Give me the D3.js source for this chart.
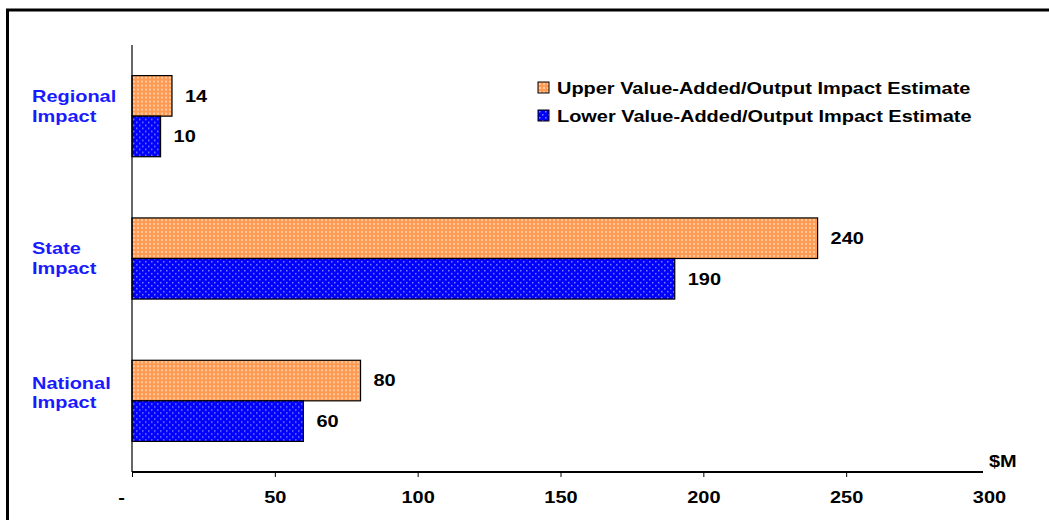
<!DOCTYPE html>
<html>
<head>
<meta charset="utf-8">
<script src="https://cdn.jsdelivr.net/npm/d3@7"></script>
<style>
  html, body { margin: 0; padding: 0; background: #fff; }
  svg { display: block; }
  text { font-family: "Liberation Sans", Arial, sans-serif; font-weight: bold; }
</style>
</head>
<body>
<svg id="chart" width="1049" height="520"></svg>
<script>
// Economic impact estimates ($M)
const categories = ["Regional Impact", "State Impact", "National Impact"];
const upperValues = [14, 240, 80];
const lowerValues = [10, 190, 60];
const seriesNames = [
  "Upper Value-Added/Output Impact Estimate",
  "Lower Value-Added/Output Impact Estimate"
];
const xTicks = [0, 50, 100, 150, 200, 250, 300];
const xTickLabels = ["-", "50", "100", "150", "200", "250", "300"];
const unitLabel = "$M";

const FONT_SIZE = 16.5;
const STRETCH = 1.21; // wide lettering

const svg = d3.select("#chart");
const defs = svg.append("defs");

// Widen a text element horizontally around its own anchor point
function widen(sel) {
  sel.attr("transform", function () {
    const t = d3.select(this);
    const ax = +t.attr("x") || 0, ay = +t.attr("y") || 0;
    return `translate(${ax},${ay}) scale(${STRETCH},1) translate(${-ax},${-ay})`;
  });
}

// Dotted fills for the two series
const pOrange = defs.append("pattern").attr("id", "dotOrange")
  .attr("patternUnits", "userSpaceOnUse").attr("width", 4).attr("height", 4);
pOrange.append("rect").attr("width", 4).attr("height", 4).attr("fill", "#ff9a52");
pOrange.append("rect").attr("x", 1).attr("y", 1).attr("width", 2).attr("height", 2).attr("fill", "#ffc9a0");

const pBlue = defs.append("pattern").attr("id", "dotBlue")
  .attr("patternUnits", "userSpaceOnUse").attr("width", 6).attr("height", 6);
pBlue.append("rect").attr("width", 6).attr("height", 6).attr("fill", "#0000ff");
pBlue.append("rect").attr("x", 1).attr("y", 1).attr("width", 1.5).attr("height", 1.5).attr("fill", "#8080ff");
pBlue.append("rect").attr("x", 4).attr("y", 4).attr("width", 1.5).attr("height", 1.5).attr("fill", "#8080ff");

const fills = ["url(#dotOrange)", "url(#dotBlue)"];

// Outer frame (runs past the right and bottom edges)
svg.append("rect")
  .attr("x", 7.5).attr("y", 10).attr("width", 1100).attr("height", 600)
  .attr("fill", "none").attr("stroke", "#000").attr("stroke-width", 3);

const plot = { left: 132, right: 989, top: 45, bottom: 472 };

const x = d3.scaleLinear().domain([0, 300]).range([plot.left, plot.right]);
const y = d3.scaleBand().domain(categories).range([plot.top, plot.bottom])
  .paddingInner(0.43).paddingOuter(0.215);
const ySub = d3.scaleBand().domain([0, 1]).range([0, y.bandwidth()]);

// Bars with value labels
const rows = categories.map((c, i) => [upperValues[i], lowerValues[i]]);

svg.append("g").selectAll("g")
  .data(categories)
  .join("g")
  .attr("transform", d => `translate(0,${y(d)})`)
  .each(function (c, i) {
    const g = d3.select(this);
    rows[i].forEach((v, s) => {
      g.append("rect")
        .attr("x", x(0))
        .attr("y", ySub(s))
        .attr("width", x(v) - x(0))
        .attr("height", ySub.bandwidth())
        .attr("fill", fills[s])
        .attr("stroke", "#000")
        .attr("stroke-width", 1.2);
      g.append("text")
        .attr("x", x(v) + 13)
        .attr("y", ySub(s) + ySub.bandwidth() / 2)
        .attr("dy", "0.36em")
        .attr("font-size", FONT_SIZE)
        .attr("fill", "#000")
        .text(v)
        .call(widen);
    });
  });

// Category labels (two lines each)
const labelShift = [-10, 0, -8];
svg.append("g").selectAll("text")
  .data(categories)
  .join("text")
  .attr("x", 32)
  .attr("y", (d, i) => y(d) + y.bandwidth() / 2 + labelShift[i])
  .attr("font-size", FONT_SIZE)
  .attr("fill", "#1a1aff")
  .each(function (d) {
    const words = d.split(" ");
    const t = d3.select(this);
    t.append("tspan").attr("x", 32).attr("dy", "-0.25em").text(words[0]);
    t.append("tspan").attr("x", 32).attr("dy", "1.2em").text(words.slice(1).join(" "));
  })
  .call(widen);

// Y axis line
svg.append("line")
  .attr("x1", plot.left).attr("x2", plot.left)
  .attr("y1", plot.top).attr("y2", plot.bottom)
  .attr("stroke", "#000").attr("stroke-width", 1.2);

// X axis
const xAxis = d3.axisBottom(x)
  .tickValues(xTicks)
  .tickFormat((d, i) => xTickLabels[i])
  .tickSize(5)
  .tickSizeOuter(0)
  .tickPadding(14);

const ax = svg.append("g")
  .attr("transform", `translate(0,${plot.bottom})`)
  .call(xAxis);
ax.select(".domain").attr("stroke", "#000").attr("stroke-width", 2)
  .attr("d", `M${x(0)},0H${x(300) - 6}`);
ax.selectAll(".tick line").attr("stroke", "#000").attr("stroke-width", 1)
  .filter(d => d === 300).remove();
ax.selectAll(".tick text")
  .attr("font-size", FONT_SIZE)
  .attr("fill", "#000")
  .attr("font-family", "\"Liberation Sans\", Arial, sans-serif")
  .attr("font-weight", "bold")
  .attr("x", d => d === 0 ? -11 : 0)
  .call(widen);

// Unit label
svg.append("text")
  .attr("x", x(300)).attr("y", 467)
  .attr("font-size", FONT_SIZE).attr("fill", "#000")
  .text(unitLabel)
  .call(widen);

// Legend
const legend = svg.append("g").attr("transform", "translate(538,82)");
seriesNames.forEach((name, i) => {
  const row = legend.append("g").attr("transform", `translate(0,${i * 28})`);
  row.append("rect")
    .attr("x", 0).attr("y", 0).attr("width", 11).attr("height", 11)
    .attr("fill", fills[i]).attr("stroke", "#000").attr("stroke-width", 1);
  row.append("text")
    .attr("x", 19).attr("y", 6).attr("dy", "0.36em")
    .attr("font-size", FONT_SIZE).attr("fill", "#000")
    .text(name)
    .call(widen);
});
</script>
</body>
</html>
